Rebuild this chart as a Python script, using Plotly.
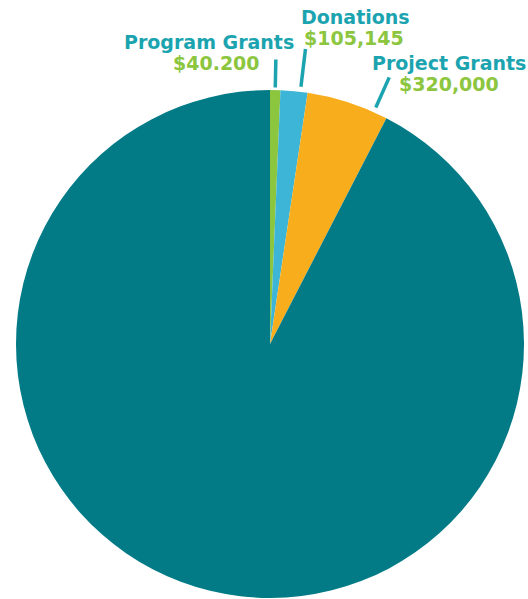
import math
import plotly.graph_objects as go

# ---- data ----
categories = ["Program Grants", "Donations", "Project Grants", "Other"]
values = [40200, 105145, 320000, 5675000]
value_labels = ["$40.200", "$105,145", "$320,000", ""]
show_label = [True, True, True, False]

# ---- style ----
colors = ["#8cc63f", "#3db5d6", "#f8ad1d", "#037b87"]
name_color = "#1ba4b0"
value_color = "#8cc63f"
W, H = 528, 599
CX, CY, R = 270, 344, 254          # pie centre / radius in px
line_frac = [0.5, 0.73, 0.83, None]   # where along the slice the leader sits
line_r_in = [1.01, 1.02, 1.02, None]
line_r_out = [1.12, 1.17, 1.15, None]
name_off = [(-67, -17.5), (50, -31.5), (60, -14), None]
val_off = [(-59, 3), (48.5, -10.5), (60, 7), None]
FONT = "DejaVu Sans"
FS = 19

fig = go.Figure(go.Pie(
    labels=categories,
    values=values,
    sort=False,
    direction="clockwise",
    rotation=0,
    marker=dict(colors=colors, line=dict(width=0)),
    textinfo="none",
    hoverinfo="label+value",
    domain=dict(x=[(CX - R) / W, (CX + R) / W],
                y=[1 - (CY + R) / H, 1 - (CY - R) / H]),
    showlegend=False,
))

total = sum(values)
cum = 0.0
shapes, annotations = [], []
for i, v in enumerate(values):
    start = cum
    cum += v
    if not show_label[i]:
        continue
    frac = (start + line_frac[i] * v) / total
    ang = 2 * math.pi * frac
    sx, sy = math.sin(ang), -math.cos(ang)
    x0, y0 = CX + sx * R * line_r_in[i], CY + sy * R * line_r_in[i]
    x1, y1 = CX + sx * R * line_r_out[i], CY + sy * R * line_r_out[i]
    shapes.append(dict(type="line", xref="paper", yref="paper",
                       x0=x0 / W, y0=1 - y0 / H, x1=x1 / W, y1=1 - y1 / H,
                       line=dict(color=name_color, width=3.5)))
    for txt, off, col in [(categories[i], name_off[i], name_color),
                          (value_labels[i], val_off[i], value_color)]:
        annotations.append(dict(
            x=(x1 + off[0]) / W, y=1 - (y1 + off[1]) / H,
            xref="paper", yref="paper", xanchor="center", yanchor="middle",
            text=txt, showarrow=False, borderpad=0,
            font=dict(family=FONT, size=FS, color=col, weight="bold")))

fig.update_layout(
    width=W, height=H,
    margin=dict(l=0, r=0, t=0, b=0),
    paper_bgcolor="white",
    plot_bgcolor="white",
    shapes=shapes,
    annotations=annotations,
)

fig.write_html("out.html")
